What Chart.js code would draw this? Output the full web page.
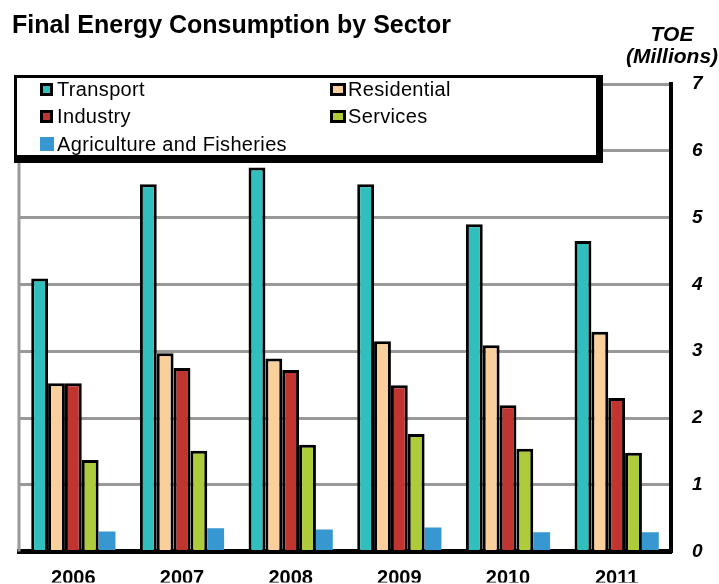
<!DOCTYPE html>
<html>
<head>
<meta charset="utf-8">
<title>Final Energy Consumption by Sector</title>
<script src="https://cdn.jsdelivr.net/npm/chart.js@4.4.0/dist/chart.umd.min.js"></script>
<style>
    html, body { margin: 0; padding: 0; background: #fff; }
    #wrap { width: 719px; height: 584px; }
</style>
</head>
<body>
<div id="wrap"><canvas id="energyChart" width="719" height="584"></canvas></div>
<script>
// TOE (millions) per sector and year
const years = ['2006', '2007', '2008', '2009', '2010', '2011'];
const transport = [4.09, 5.50, 5.75, 5.50, 4.90, 4.65];
const residential = [2.52, 2.97, 2.89, 3.15, 3.09, 3.29];
const industry = [2.52, 2.75, 2.72, 2.49, 2.19, 2.30];
const services = [1.37, 1.51, 1.60, 1.76, 1.54, 1.48];
const agriculture = [0.30, 0.35, 0.33, 0.36, 0.29, 0.29];
const yTicks = [0, 1, 2, 3, 4, 5, 6, 7];

const FONT = '"Liberation Sans", Arial, sans-serif';

function bar(label, data, color, outlined) {
    return {
        label: label,
        data: data,
        backgroundColor: color,
        borderColor: '#000',
        borderWidth: outlined ? 3 : 0,
        borderSkipped: 'bottom',
        categoryPercentage: 0.775,
        barPercentage: 1.0
    };
}

// Title, axis caption, left frame line and the boxed legend
const decorations = {
    id: 'decorations',
    beforeDatasetsDraw(chart) {
        const { ctx, chartArea } = chart;
        ctx.save();
        ctx.strokeStyle = '#999';
        ctx.lineWidth = 3;
        ctx.beginPath();
        ctx.moveTo(chartArea.left, chartArea.top);
        ctx.lineTo(chartArea.left, chartArea.bottom);
        ctx.stroke();
        ctx.restore();
    },
    afterDraw(chart) {
        const { ctx } = chart;
        ctx.save();
        ctx.fillStyle = '#000';
        ctx.textBaseline = 'alphabetic';

        ctx.font = 'bold 25px ' + FONT;
        ctx.textAlign = 'left';
        ctx.fillText('Final Energy Consumption by Sector', 12, 33);

        ctx.font = 'italic bold 21px ' + FONT;
        ctx.textAlign = 'center';
        ctx.fillText('TOE', 672, 41);
        ctx.fillText('(Millions)', 672, 63);

        // legend box with its dark drop edge
        ctx.fillStyle = '#000';
        ctx.fillRect(14, 75, 589, 88);
        ctx.fillStyle = '#fff';
        ctx.fillRect(17, 78, 579, 77);

        const slots = [
            { x: 40, y: 83, tx: 57, ty: 96 },
            { x: 330, y: 83, tx: 348, ty: 96 },
            { x: 40, y: 110, tx: 57, ty: 123 },
            { x: 330, y: 110, tx: 348, ty: 123 },
            { x: 40, y: 137, tx: 57, ty: 151 }
        ];
        ctx.font = '20px ' + FONT;
        ctx.textAlign = 'left';
        ctx.letterSpacing = '0.35px';
        chart.data.datasets.forEach((ds, i) => {
            const s = slots[i];
            if (ds.borderWidth > 0) {
                const w = s.x > 100 ? 16 : 13;
                ctx.fillStyle = '#000';
                ctx.fillRect(s.x, s.y, w, 13);
                ctx.fillStyle = ds.backgroundColor;
                ctx.fillRect(s.x + 3, s.y + 3, w - 6, 7);
            } else {
                ctx.fillStyle = ds.backgroundColor;
                ctx.fillRect(s.x, s.y, 14, 14);
            }
            ctx.fillStyle = '#000';
            ctx.fillText(ds.label, s.tx, s.ty);
        });
        ctx.restore();
    }
};

new Chart(document.getElementById('energyChart'), {
    type: 'bar',
    data: {
        labels: years,
        datasets: [
            bar('Transport', transport, '#31bfbd', true),
            bar('Residential', residential, '#f9cf9b', true),
            bar('Industry', industry, '#c03530', true),
            bar('Services', services, '#adcb3b', true),
            bar('Agriculture and Fisheries', agriculture, '#3797d0', false)
        ]
    },
    options: {
        responsive: false,
        animation: false,
        devicePixelRatio: 1,
        layout: { padding: { left: 19, top: 84, right: 0, bottom: 0 } },
        plugins: {
            legend: { display: false },
            title: { display: false },
            tooltip: { enabled: false }
        },
        scales: {
            x: {
                grid: { display: false },
                border: { color: '#000', width: 5 },
                ticks: {
                    color: '#000',
                    padding: 7,
                    font: { family: FONT, size: 20, weight: 'bold' }
                },
                afterFit(scale) { scale.height = 31; }
            },
            y: {
                position: 'right',
                min: 0,
                max: 7,
                afterBuildTicks(scale) {
                    scale.ticks = yTicks.map(v => ({ value: v }));
                },
                grid: { color: '#999', lineWidth: 3, drawTicks: false },
                border: { color: '#000', width: 4 },
                ticks: {
                    color: '#000',
                    padding: 21,
                    font: { family: FONT, size: 19, weight: 'bold', style: 'italic' }
                },
                afterFit(scale) { scale.width = 48; }
            }
        }
    },
    plugins: [decorations]
});
</script>
</body>
</html>
